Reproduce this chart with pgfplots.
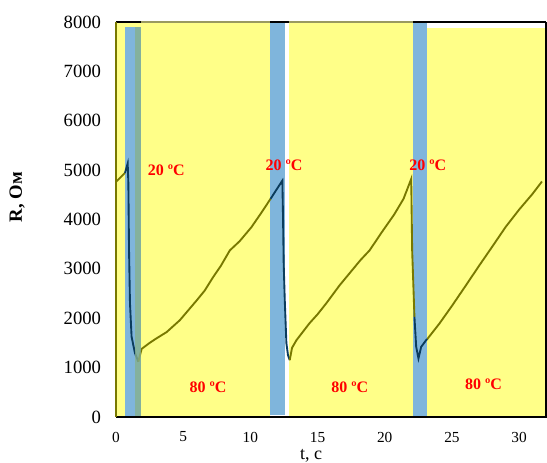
\documentclass[border=0pt]{standalone}
\usepackage{fontspec}
\setmainfont{Liberation Serif}
\usepackage{pgfplots}
\pgfplotsset{compat=1.18}
\definecolor{ylw}{HTML}{FFFF88}
\definecolor{blu}{HTML}{7FB5DC}
\definecolor{olv}{HTML}{787800}
\definecolor{nav}{HTML}{0B3C5D}
\definecolor{topg}{HTML}{9A9A60}
\definecolor{grn}{HTML}{86B08E}
\begin{document}
\begin{tikzpicture}
\begin{axis}[
  at={(0,0)}, anchor=south west,
  scale only axis, width=322.5pt, height=296.25pt,
  xmin=0, xmax=32, ymin=0, ymax=8000,
  clip=false,
  axis line style={draw=none},
  xtick={0,5,10,15,20,25,30},
  ytick={0,1000,2000,3000,4000,5000,6000,7000,8000},
  major tick length=0pt,
  /pgf/number format/assume math mode=true,
  /pgf/number format/1000 sep={},
  yticklabel style={anchor=east, inner sep=0pt, xshift=-11pt, font=\fontsize{14}{16}\selectfont},
  xticklabel style={anchor=north, inner sep=0pt, yshift=-11pt, font=\fontsize{11.5}{13}\selectfont},
  xlabel={t, с},
  xlabel style={at={(axis description cs:0.454,-0.098)}, anchor=center, inner sep=0pt, font=\fontsize{13.5}{15}\selectfont},
  ylabel={\textbf{R, Ом}},
  ylabel style={at={(axis description cs:-0.23,0.557)}, anchor=center, rotate=0, font=\fontsize{14}{16}\selectfont},
]
% yellow regions
\addplot[fill=ylw, draw=none] coordinates {(0,0)(11.49,0)(11.49,8000)(0,8000)} --cycle;
\addplot[fill=ylw, draw=none] coordinates {(12.85,0)(22.1,0)(22.1,8000)(12.85,8000)} --cycle;
\addplot[fill=ylw, draw=none] coordinates {(23.17,0)(32,0)(32,7870)(23.17,7870)} --cycle;
% blue bands
\addplot[fill=blu, draw=none] coordinates {(0.7,0)(1.85,0)(1.85,7900)(0.7,7900)} --cycle;
\addplot[fill=blu, draw=none] coordinates {(11.49,40)(12.56,40)(12.56,8000)(11.49,8000)} --cycle;
\addplot[fill=blu, draw=none] coordinates {(22.1,0)(23.17,0)(23.17,8000)(22.1,8000)} --cycle;
% curve segments
\addplot[olv, line width=1.4pt] coordinates {(0,4763)(0.67,4945)};
\addplot[nav, line width=1.4pt] coordinates {(0.67,4945)(0.87,5135)(0.92,4737)(0.97,3380)(1.04,2308)(1.16,1626)(1.41,1295)(1.66,1120)};
\addplot[olv, line width=1.4pt] coordinates {(1.66,1120)(1.91,1380)(2.5,1500)(3.0,1590)(3.77,1720)(4.75,1960)(5.5,2200)(6.0,2360)(6.6,2560)(7.23,2834)(7.8,3060)(8.47,3374)(9.2,3560)(10.08,3845)(10.8,4130)(11.5,4418)};
\addplot[nav, line width=1.4pt] coordinates {(11.5,4418)(12.38,4788)(12.43,4047)(12.48,3100)(12.56,2364)(12.68,1495)(12.8,1250)(12.93,1152)};
\addplot[olv, line width=1.4pt] coordinates {(12.93,1152)(13.1,1400)(13.43,1556)(14.4,1899)(15.0,2080)(15.65,2303)(16.64,2667)(17.5,2950)(18.2,3180)(18.87,3374)(19.8,3750)(20.7,4100)(21.4,4420)(21.97,4822)(22.04,3374)(22.21,2026)};
\addplot[nav, line width=1.4pt] coordinates {(22.21,2026)(22.34,1420)(22.51,1186)(22.71,1420)(23.08,1556)(23.17,1580)};
\addplot[olv, line width=1.4pt] coordinates {(23.17,1580)(24.07,1893)(25.0,2250)(26.0,2650)(27.04,3071)(28,3450)(29,3850)(30,4200)(31,4520)(31.7,4770)};
% translucent overlay on band 1
\addplot[fill=grn, fill opacity=0.8, draw=none] coordinates {(1.4,0)(1.85,0)(1.85,7900)(1.4,7900)} --cycle;
% frame
\addplot[black, line width=1pt] coordinates {(0,0)(32,0)(32,8000)};
\addplot[black, line width=1pt] coordinates {(22.1,8000)(32,8000)};
\addplot[black, line width=1pt] coordinates {(11.49,8000)(12.85,8000)};
\addplot[black, line width=1pt] coordinates {(0,8000)(1.85,8000)};
\addplot[topg, line width=1pt] coordinates {(1.85,8000)(11.49,8000)};
\addplot[topg, line width=1pt] coordinates {(12.85,8000)(22.1,8000)};
\addplot[olv, line width=1.2pt] coordinates {(0,0)(0,8000)};
% labels
\node[red, font=\bfseries\fontsize{12}{14}\selectfont] at (axis cs:3.75,4990) {20 ºC};
\node[red, font=\bfseries\fontsize{12}{14}\selectfont] at (axis cs:12.5,5090) {20 ºC};
\node[red, font=\bfseries\fontsize{12}{14}\selectfont] at (axis cs:23.2,5090) {20 ºC};
\node[red, font=\bfseries\fontsize{12}{14}\selectfont] at (axis cs:6.85,606) {80 ºC};
\node[red, font=\bfseries\fontsize{12}{14}\selectfont] at (axis cs:17.4,606) {80 ºC};
\node[red, font=\bfseries\fontsize{12}{14}\selectfont] at (axis cs:27.35,667) {80 ºC};
\end{axis}
\pgfresetboundingbox
\path[use as bounding box] (-87pt,-34.5pt) rectangle (323.25pt,312.75pt);
\end{tikzpicture}
\end{document}
